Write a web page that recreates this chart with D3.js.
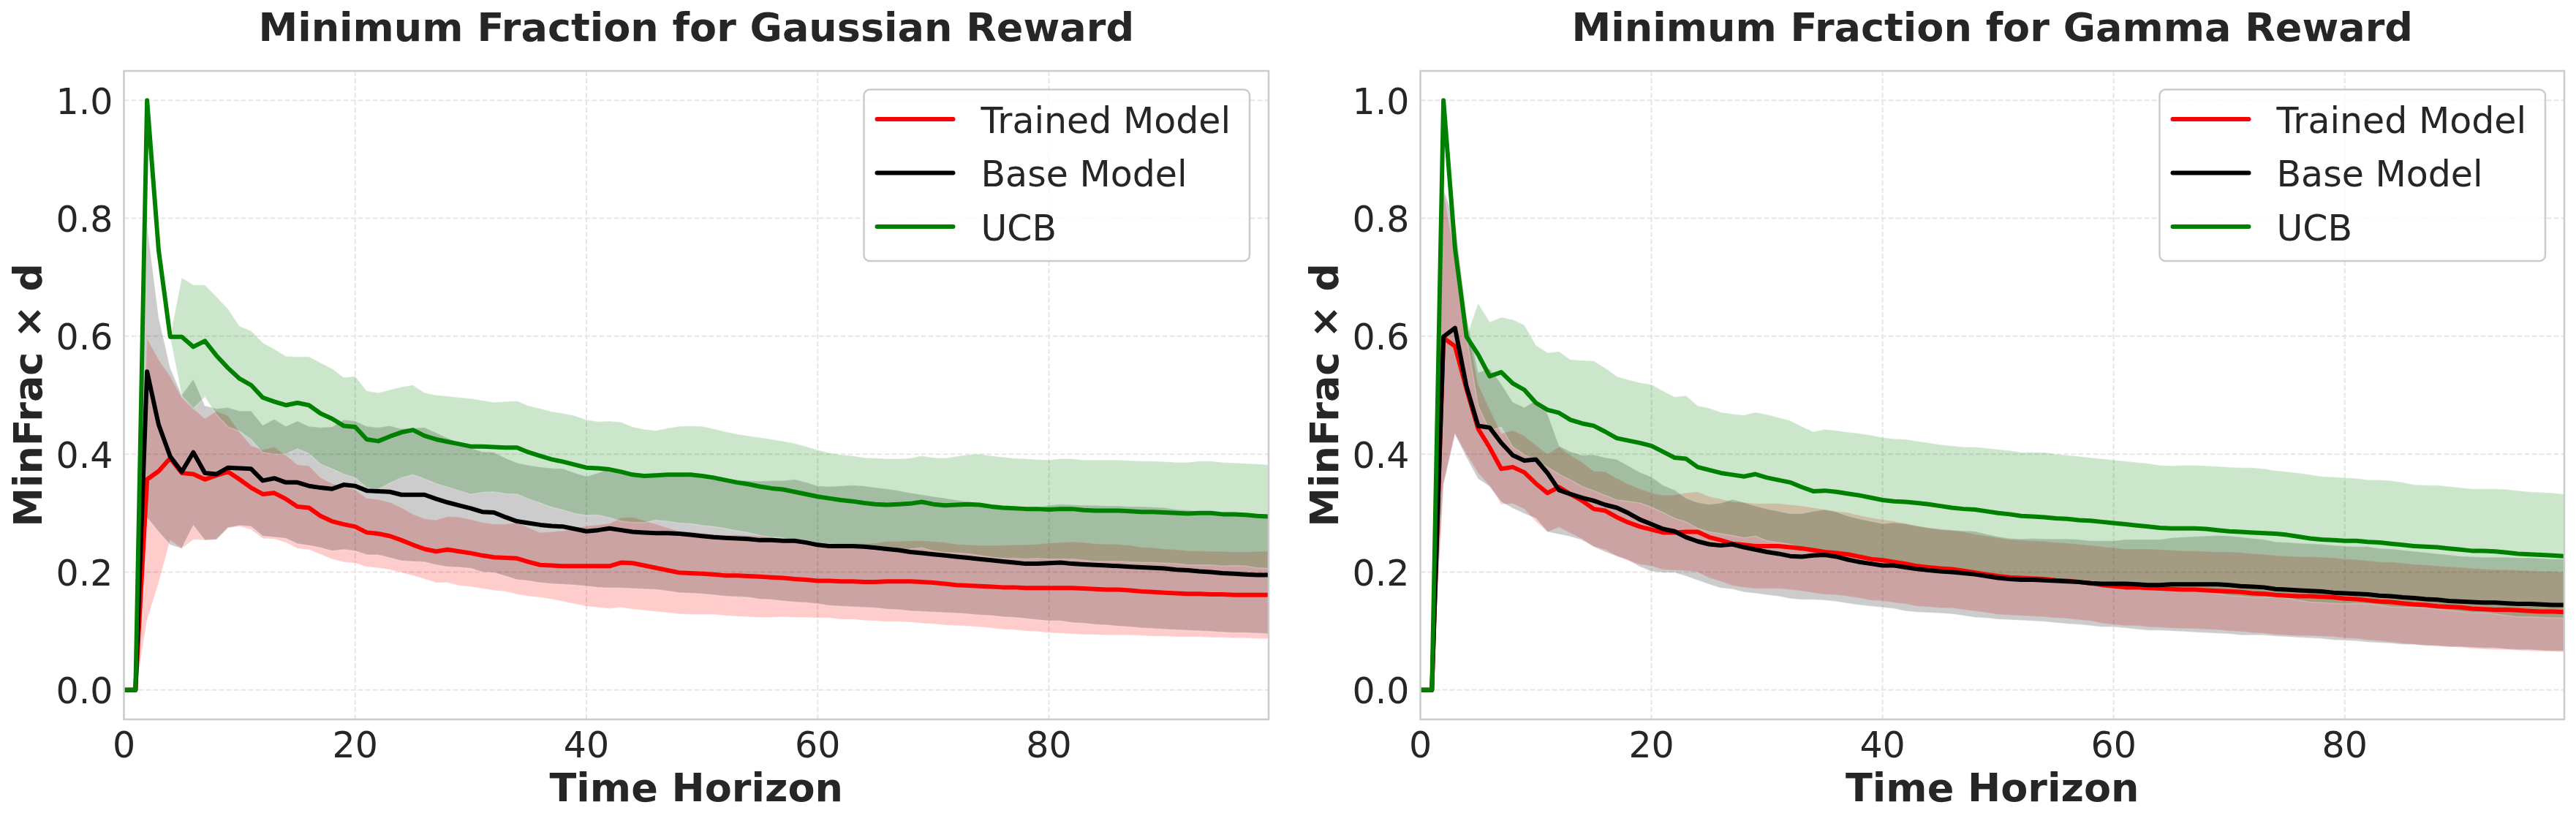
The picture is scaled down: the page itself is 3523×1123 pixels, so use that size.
<!DOCTYPE html>
<html>
<head>
<meta charset="utf-8">
<script src="https://cdn.jsdelivr.net/npm/d3@7"></script>
<style>
  html, body { margin: 0; padding: 0; background: #ffffff; }
  svg text { font-family: "DejaVu Sans", sans-serif; fill: #262626; }
</style>
</head>
<body>
<svg id="chart" width="3523" height="1123"></svg>
<script>
var horizon = d3.range(0, 100);
var xTicks = [0, 20, 40, 60, 80];
var yTicks = [0.0, 0.2, 0.4, 0.6, 0.8, 1.0];
var seriesNames = ["Trained Model", "Base Model", "UCB"];
var seriesColors = ["#ff0000", "#000000", "#008000"];
var panelTitles = ["Minimum Fraction for Gaussian Reward", "Minimum Fraction for Gamma Reward"];

// Gaussian reward panel
var gaussTrainedMean = [0, 0, 0.357, 0.371, 0.393, 0.368, 0.366, 0.357, 0.364, 0.370,
  0.357, 0.343, 0.332, 0.334, 0.324, 0.311, 0.309, 0.295, 0.286, 0.281,
  0.277, 0.267, 0.265, 0.261, 0.254, 0.246, 0.239, 0.235, 0.238, 0.235,
  0.232, 0.228, 0.225, 0.224, 0.223, 0.217, 0.212, 0.211, 0.210, 0.210,
  0.210, 0.210, 0.210, 0.216, 0.215, 0.211, 0.207, 0.203, 0.199, 0.198,
  0.197, 0.196, 0.194, 0.194, 0.193, 0.192, 0.191, 0.190, 0.188, 0.187,
  0.185, 0.185, 0.184, 0.184, 0.183, 0.183, 0.184, 0.184, 0.184, 0.183,
  0.182, 0.180, 0.178, 0.177, 0.176, 0.175, 0.174, 0.174, 0.173, 0.173,
  0.173, 0.173, 0.173, 0.172, 0.171, 0.170, 0.170, 0.169, 0.167, 0.166,
  0.165, 0.164, 0.163, 0.163, 0.162, 0.162, 0.161, 0.161, 0.161, 0.161];
var gaussTrainedStd = [0, 0, 0.239, 0.189, 0.139, 0.128, 0.111, 0.103, 0.109, 0.095,
  0.080, 0.071, 0.075, 0.078, 0.074, 0.071, 0.071, 0.065, 0.064, 0.064,
  0.062, 0.058, 0.058, 0.057, 0.055, 0.052, 0.051, 0.053, 0.056, 0.058,
  0.057, 0.056, 0.056, 0.057, 0.061, 0.058, 0.055, 0.057, 0.060, 0.064,
  0.068, 0.070, 0.072, 0.076, 0.078, 0.076, 0.074, 0.072, 0.070, 0.070,
  0.069, 0.068, 0.068, 0.069, 0.069, 0.069, 0.068, 0.066, 0.065, 0.064,
  0.063, 0.063, 0.064, 0.064, 0.065, 0.066, 0.068, 0.068, 0.069, 0.070,
  0.070, 0.070, 0.069, 0.069, 0.069, 0.070, 0.071, 0.072, 0.073, 0.074,
  0.076, 0.077, 0.078, 0.078, 0.077, 0.077, 0.077, 0.076, 0.075, 0.075,
  0.074, 0.074, 0.073, 0.073, 0.073, 0.073, 0.073, 0.073, 0.074, 0.074];
var gaussBaseMean = [0, 0, 0.540, 0.450, 0.396, 0.370, 0.403, 0.368, 0.366, 0.377,
  0.376, 0.375, 0.355, 0.359, 0.352, 0.352, 0.346, 0.343, 0.341, 0.348,
  0.346, 0.338, 0.337, 0.336, 0.331, 0.331, 0.331, 0.324, 0.318, 0.313,
  0.308, 0.302, 0.301, 0.293, 0.286, 0.283, 0.280, 0.278, 0.277, 0.273,
  0.269, 0.271, 0.274, 0.271, 0.268, 0.267, 0.266, 0.266, 0.265, 0.263,
  0.261, 0.259, 0.258, 0.257, 0.256, 0.254, 0.254, 0.253, 0.253, 0.250,
  0.246, 0.244, 0.244, 0.244, 0.243, 0.241, 0.239, 0.237, 0.234, 0.232,
  0.230, 0.228, 0.226, 0.224, 0.222, 0.220, 0.218, 0.216, 0.214, 0.214,
  0.215, 0.216, 0.214, 0.213, 0.212, 0.211, 0.210, 0.209, 0.208, 0.207,
  0.206, 0.204, 0.203, 0.201, 0.200, 0.198, 0.197, 0.196, 0.195, 0.195];
var gaussBaseStd = [0, 0, 0.248, 0.182, 0.150, 0.130, 0.124, 0.114, 0.111, 0.102,
  0.097, 0.098, 0.094, 0.100, 0.095, 0.104, 0.101, 0.102, 0.105, 0.110,
  0.110, 0.109, 0.108, 0.112, 0.112, 0.113, 0.114, 0.112, 0.109, 0.105,
  0.102, 0.102, 0.102, 0.100, 0.099, 0.098, 0.098, 0.098, 0.098, 0.095,
  0.093, 0.097, 0.101, 0.098, 0.096, 0.096, 0.096, 0.098, 0.100, 0.099,
  0.098, 0.098, 0.099, 0.099, 0.099, 0.100, 0.101, 0.102, 0.104, 0.102,
  0.100, 0.101, 0.102, 0.103, 0.103, 0.102, 0.102, 0.101, 0.100, 0.099,
  0.098, 0.097, 0.096, 0.095, 0.095, 0.094, 0.094, 0.093, 0.093, 0.095,
  0.098, 0.099, 0.100, 0.100, 0.101, 0.101, 0.102, 0.102, 0.103, 0.103,
  0.103, 0.102, 0.102, 0.101, 0.101, 0.100, 0.100, 0.099, 0.099, 0.100];
var gaussUcbMean = [0, 0, 1.000, 0.746, 0.599, 0.599, 0.582, 0.592, 0.567, 0.546,
  0.528, 0.517, 0.496, 0.489, 0.483, 0.487, 0.483, 0.469, 0.460, 0.448,
  0.446, 0.425, 0.422, 0.430, 0.437, 0.441, 0.431, 0.425, 0.421, 0.417,
  0.413, 0.413, 0.412, 0.411, 0.411, 0.403, 0.397, 0.391, 0.387, 0.382,
  0.377, 0.376, 0.374, 0.370, 0.365, 0.363, 0.364, 0.365, 0.365, 0.365,
  0.363, 0.360, 0.356, 0.352, 0.349, 0.345, 0.342, 0.340, 0.336, 0.332,
  0.328, 0.325, 0.322, 0.320, 0.317, 0.315, 0.314, 0.315, 0.316, 0.319,
  0.315, 0.313, 0.314, 0.315, 0.314, 0.311, 0.309, 0.308, 0.307, 0.307,
  0.306, 0.307, 0.307, 0.305, 0.304, 0.304, 0.304, 0.303, 0.302, 0.302,
  0.301, 0.300, 0.299, 0.300, 0.300, 0.298, 0.298, 0.297, 0.295, 0.294];
var gaussUcbStd = [0, 0, 0, 0, 0, 0.100, 0.105, 0.095, 0.100, 0.100,
  0.089, 0.092, 0.093, 0.089, 0.083, 0.078, 0.082, 0.086, 0.085, 0.082,
  0.086, 0.082, 0.082, 0.079, 0.077, 0.076, 0.073, 0.075, 0.077, 0.079,
  0.081, 0.078, 0.076, 0.078, 0.079, 0.079, 0.080, 0.081, 0.082, 0.083,
  0.081, 0.079, 0.082, 0.084, 0.081, 0.079, 0.076, 0.079, 0.082, 0.083,
  0.084, 0.083, 0.082, 0.082, 0.082, 0.083, 0.083, 0.082, 0.082, 0.081,
  0.079, 0.077, 0.077, 0.077, 0.077, 0.078, 0.078, 0.077, 0.077, 0.078,
  0.079, 0.080, 0.082, 0.084, 0.086, 0.086, 0.086, 0.085, 0.085, 0.084,
  0.084, 0.085, 0.085, 0.085, 0.086, 0.086, 0.086, 0.086, 0.086, 0.086,
  0.086, 0.086, 0.087, 0.088, 0.088, 0.088, 0.087, 0.087, 0.088, 0.088];

// Gamma reward panel
var gammaTrainedMean = [0, 0, 0.597, 0.583, 0.510, 0.443, 0.411, 0.375, 0.378, 0.369,
  0.350, 0.334, 0.344, 0.332, 0.321, 0.307, 0.304, 0.293, 0.284, 0.277,
  0.272, 0.267, 0.267, 0.268, 0.268, 0.259, 0.254, 0.248, 0.246, 0.244,
  0.244, 0.244, 0.242, 0.240, 0.237, 0.234, 0.232, 0.230, 0.226, 0.222,
  0.220, 0.217, 0.214, 0.210, 0.208, 0.206, 0.205, 0.202, 0.199, 0.196,
  0.193, 0.191, 0.190, 0.189, 0.188, 0.186, 0.185, 0.183, 0.181, 0.178,
  0.176, 0.174, 0.174, 0.173, 0.172, 0.171, 0.170, 0.170, 0.169, 0.168,
  0.167, 0.166, 0.164, 0.163, 0.161, 0.160, 0.159, 0.159, 0.158, 0.157,
  0.155, 0.154, 0.152, 0.150, 0.149, 0.147, 0.145, 0.144, 0.142, 0.141,
  0.140, 0.138, 0.137, 0.136, 0.136, 0.135, 0.134, 0.133, 0.133, 0.132];
var gammaTrainedStd = [0, 0, 0.250, 0.150, 0.110, 0.075, 0.065, 0.060, 0.062, 0.062,
  0.065, 0.066, 0.068, 0.066, 0.065, 0.064, 0.066, 0.066, 0.065, 0.064,
  0.062, 0.063, 0.064, 0.066, 0.068, 0.069, 0.070, 0.071, 0.072, 0.072,
  0.072, 0.072, 0.072, 0.072, 0.072, 0.072, 0.071, 0.071, 0.070, 0.070,
  0.069, 0.069, 0.068, 0.068, 0.067, 0.067, 0.066, 0.066, 0.065, 0.065,
  0.065, 0.064, 0.064, 0.064, 0.064, 0.064, 0.064, 0.064, 0.064, 0.065,
  0.065, 0.065, 0.065, 0.066, 0.066, 0.066, 0.066, 0.066, 0.066, 0.066,
  0.067, 0.067, 0.067, 0.067, 0.067, 0.067, 0.067, 0.067, 0.067, 0.067,
  0.067, 0.067, 0.067, 0.067, 0.068, 0.068, 0.068, 0.068, 0.068, 0.068,
  0.068, 0.068, 0.068, 0.068, 0.068, 0.068, 0.068, 0.068, 0.068, 0.068];
var gammaBaseMean = [0, 0, 0.599, 0.614, 0.514, 0.448, 0.445, 0.419, 0.398, 0.389,
  0.391, 0.368, 0.339, 0.332, 0.326, 0.321, 0.314, 0.309, 0.300, 0.289,
  0.281, 0.273, 0.269, 0.259, 0.252, 0.247, 0.245, 0.247, 0.242, 0.238,
  0.234, 0.231, 0.227, 0.226, 0.228, 0.229, 0.226, 0.221, 0.217, 0.214,
  0.211, 0.211, 0.208, 0.205, 0.203, 0.201, 0.200, 0.198, 0.196, 0.193,
  0.190, 0.188, 0.187, 0.187, 0.186, 0.185, 0.184, 0.183, 0.181, 0.180,
  0.180, 0.180, 0.179, 0.178, 0.178, 0.179, 0.179, 0.179, 0.179, 0.179,
  0.178, 0.176, 0.175, 0.174, 0.171, 0.170, 0.169, 0.168, 0.167, 0.165,
  0.164, 0.163, 0.162, 0.160, 0.159, 0.157, 0.156, 0.154, 0.153, 0.151,
  0.150, 0.149, 0.148, 0.148, 0.147, 0.146, 0.146, 0.145, 0.144, 0.144];
var gammaBaseStd = [0, 0, 0.250, 0.180, 0.120, 0.090, 0.100, 0.100, 0.090, 0.090,
  0.100, 0.100, 0.075, 0.072, 0.072, 0.078, 0.080, 0.082, 0.080, 0.080,
  0.080, 0.074, 0.070, 0.066, 0.066, 0.068, 0.072, 0.076, 0.076, 0.074,
  0.073, 0.072, 0.072, 0.073, 0.075, 0.077, 0.076, 0.074, 0.073, 0.072,
  0.071, 0.073, 0.074, 0.073, 0.072, 0.071, 0.071, 0.072, 0.073, 0.071,
  0.070, 0.069, 0.069, 0.070, 0.070, 0.071, 0.072, 0.072, 0.072, 0.073,
  0.073, 0.075, 0.076, 0.077, 0.077, 0.079, 0.080, 0.081, 0.082, 0.083,
  0.083, 0.083, 0.082, 0.081, 0.080, 0.080, 0.080, 0.080, 0.080, 0.080,
  0.080, 0.080, 0.081, 0.080, 0.080, 0.080, 0.079, 0.079, 0.078, 0.078,
  0.077, 0.077, 0.077, 0.077, 0.078, 0.078, 0.078, 0.078, 0.078, 0.078];
var gammaUcbMean = [0, 0, 1.000, 0.749, 0.599, 0.569, 0.532, 0.539, 0.520, 0.509,
  0.487, 0.475, 0.470, 0.458, 0.452, 0.448, 0.438, 0.427, 0.423, 0.419,
  0.414, 0.404, 0.394, 0.392, 0.378, 0.373, 0.368, 0.365, 0.362, 0.366,
  0.360, 0.356, 0.352, 0.344, 0.337, 0.338, 0.336, 0.333, 0.330, 0.326,
  0.322, 0.320, 0.319, 0.317, 0.315, 0.312, 0.309, 0.307, 0.306, 0.303,
  0.300, 0.298, 0.295, 0.294, 0.293, 0.291, 0.290, 0.288, 0.287, 0.285,
  0.283, 0.281, 0.279, 0.277, 0.275, 0.274, 0.274, 0.274, 0.273, 0.271,
  0.269, 0.268, 0.267, 0.266, 0.265, 0.263, 0.260, 0.257, 0.255, 0.254,
  0.253, 0.253, 0.251, 0.250, 0.248, 0.246, 0.244, 0.243, 0.242, 0.240,
  0.238, 0.236, 0.236, 0.235, 0.233, 0.231, 0.230, 0.229, 0.228, 0.227];
var gammaUcbStd = [0, 0, 0, 0, 0, 0.087, 0.092, 0.093, 0.108, 0.110,
  0.098, 0.097, 0.104, 0.102, 0.107, 0.110, 0.108, 0.105, 0.103, 0.102,
  0.104, 0.103, 0.103, 0.107, 0.104, 0.105, 0.103, 0.103, 0.104, 0.105,
  0.107, 0.106, 0.105, 0.103, 0.101, 0.104, 0.104, 0.104, 0.105, 0.106,
  0.106, 0.106, 0.106, 0.105, 0.104, 0.104, 0.105, 0.105, 0.106, 0.107,
  0.108, 0.108, 0.108, 0.109, 0.110, 0.109, 0.108, 0.108, 0.107, 0.107,
  0.107, 0.107, 0.107, 0.107, 0.106, 0.106, 0.107, 0.107, 0.107, 0.108,
  0.109, 0.109, 0.110, 0.109, 0.107, 0.107, 0.108, 0.108, 0.107, 0.107,
  0.107, 0.106, 0.105, 0.106, 0.107, 0.106, 0.104, 0.104, 0.105, 0.105,
  0.105, 0.105, 0.105, 0.106, 0.107, 0.107, 0.106, 0.106, 0.106, 0.105];

var svg = d3.select("#chart");
svg.append("rect").attr("width", 3523).attr("height", 1123).attr("fill", "#ffffff");

var plotTop = 97, plotBottom = 984;

function drawPanel(left, right, title, means, stds) {
    var x = d3.scaleLinear().domain([0, 99]).range([left, right]);
    var y = d3.scaleLinear().domain([-0.05, 1.05]).range([plotBottom, plotTop]);
    var g = svg.append("g");

    // grid
    g.selectAll(".gx").data(xTicks).enter().append("line")
        .attr("x1", function (d) { return x(d); }).attr("x2", function (d) { return x(d); })
        .attr("y1", plotTop).attr("y2", plotBottom)
        .attr("stroke", "#e6e6e6").attr("stroke-width", 2).attr("stroke-dasharray", "7,3");
    g.selectAll(".gy").data(yTicks).enter().append("line")
        .attr("x1", left).attr("x2", right)
        .attr("y1", function (d) { return y(d); }).attr("y2", function (d) { return y(d); })
        .attr("stroke", "#e6e6e6").attr("stroke-width", 2).attr("stroke-dasharray", "7,3");

    // std bands
    means.forEach(function (m, k) {
        var s = stds[k];
        var area = d3.area()
            .x(function (i) { return x(i); })
            .y0(function (i) { return y(m[i] - s[i]); })
            .y1(function (i) { return y(m[i] + s[i]); });
        g.append("path").attr("d", area(horizon))
            .attr("fill", seriesColors[k]).attr("fill-opacity", 0.2)
            .attr("stroke", "#ffffff").attr("stroke-opacity", 0.25).attr("stroke-width", 1.5);
    });

    // mean lines
    means.forEach(function (m, k) {
        var line = d3.line()
            .x(function (i) { return x(i); })
            .y(function (i) { return y(m[i]); });
        g.append("path").attr("d", line(horizon))
            .attr("fill", "none").attr("stroke", seriesColors[k])
            .attr("stroke-width", 6).attr("stroke-linejoin", "round");
    });

    // frame
    g.append("rect").attr("x", left).attr("y", plotTop)
        .attr("width", right - left).attr("height", plotBottom - plotTop)
        .attr("fill", "none").attr("stroke", "#cccccc").attr("stroke-width", 2.5);

    // tick labels
    g.selectAll(".xt").data(xTicks).enter().append("text")
        .attr("x", function (d) { return x(d); }).attr("y", 1036)
        .attr("text-anchor", "middle").attr("font-size", 49)
        .text(function (d) { return d; });
    g.selectAll(".yt").data(yTicks).enter().append("text")
        .attr("x", left - 15).attr("y", function (d) { return y(d) + 18.5; })
        .attr("text-anchor", "end").attr("font-size", 49)
        .text(function (d) { return d3.format(".1f")(d); });

    // titles
    g.append("text").attr("x", (left + right) / 2).attr("y", 56)
        .attr("text-anchor", "middle").attr("font-size", 54).attr("font-weight", "bold")
        .text(title);
    g.append("text").attr("x", (left + right) / 2).attr("y", 1096)
        .attr("text-anchor", "middle").attr("font-size", 54).attr("font-weight", "bold")
        .text("Time Horizon");
    g.append("text")
        .attr("transform", "translate(" + (left - 113) + "," + ((plotTop + plotBottom) / 2) + ") rotate(-90)")
        .attr("text-anchor", "middle").attr("font-size", 54).attr("font-weight", "bold")
        .text("MinFrac \u00d7 d");

    // legend
    var lx = right - 553.5, ly = 122.5;
    var leg = g.append("g").attr("transform", "translate(" + lx + "," + ly + ")");
    leg.append("rect").attr("width", 527.5).attr("height", 234.5).attr("rx", 8).attr("ry", 8)
        .attr("fill", "#ffffff").attr("fill-opacity", 0.8)
        .attr("stroke", "#cccccc").attr("stroke-width", 2.5);
    seriesNames.forEach(function (name, k) {
        var ry = 40.5 + k * 73.5;
        leg.append("line").attr("x1", 18).attr("x2", 122).attr("y1", ry).attr("y2", ry)
            .attr("stroke", seriesColors[k]).attr("stroke-width", 6).attr("stroke-linecap", "round");
        leg.append("text").attr("x", 160).attr("y", ry + 18.5).attr("font-size", 49).text(name);
    });
}

drawPanel(169.5, 1735, panelTitles[0],
    [gaussTrainedMean, gaussBaseMean, gaussUcbMean],
    [gaussTrainedStd, gaussBaseStd, gaussUcbStd]);
drawPanel(1942.5, 3507, panelTitles[1],
    [gammaTrainedMean, gammaBaseMean, gammaUcbMean],
    [gammaTrainedStd, gammaBaseStd, gammaUcbStd]);
</script>
</body>
</html>
